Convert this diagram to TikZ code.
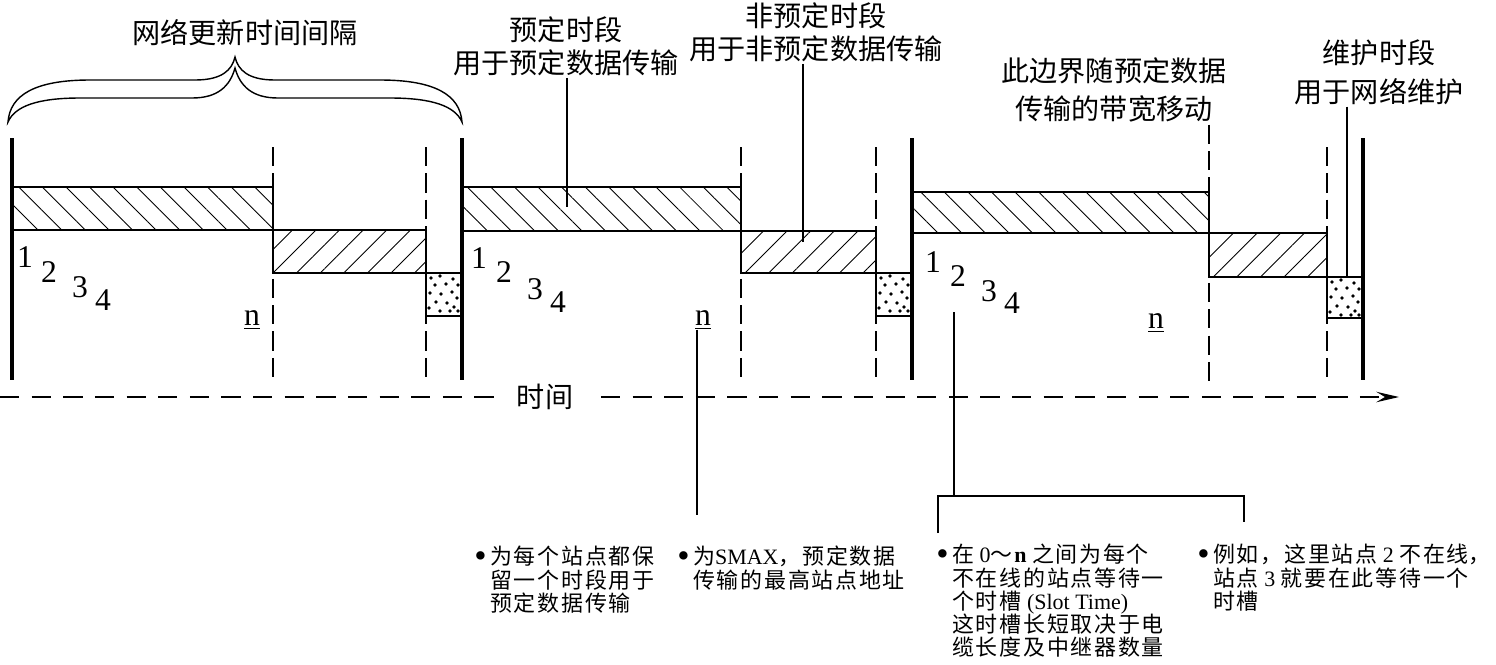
\documentclass[tikz,border=0pt]{standalone}
\usepackage{fontspec}
\setmainfont{Liberation Serif}
\newfontfamily\cjk{Noto Sans CJK SC}
\newfontfamily\cjknote[LetterSpace=8]{Noto Sans CJK SC}
\newfontfamily\cjkhalt[RawFeature=+halt]{Noto Sans CJK SC}
\usetikzlibrary{arrows.meta,patterns.meta}
\newcommand\lat[1]{{\rmfamily #1}}
\newcommand\bul{{\rmfamily\fontsize{20}{13}\selectfont\raisebox{-1.4pt}{\textbullet}}\hspace{2pt}}
\newcommand\nobul{\phantom{\bul}}
\newcommand\tightlines{\setlength{\lineskiplimit}{-20pt}}

\tikzset{
  wall/.style={line width=2.2pt},
  slot/.style={line width=0.8pt, dash pattern=on 11pt off 4pt},
  axis/.style={line width=0.8pt, dash pattern=on 11pt off 7pt,
    -{Stealth[length=13pt,width=6pt,inset=5pt]}},
  resbar/.style={draw, line width=0.9pt,
    pattern={Lines[angle=-45,distance=9.5pt,line width=0.5pt]}},
  freebar/.style={draw, line width=0.9pt,
    pattern={Lines[angle=45,distance=9.5pt,line width=0.5pt]}},
  lbl/.style={font=\cjk\fontsize{16}{19}\selectfont, align=center, inner sep=1pt},
  num/.style={font=\fontsize{18}{18}\selectfont, inner sep=0pt},
  note/.style={font=\cjknote\fontsize{12.5}{13.2}\selectfont\tightlines,
    align=left, anchor=north west, inner sep=0pt},
  ptr/.style={line width=0.7pt}
}

\begin{document}
\begin{tikzpicture}[x=0.02cm,y=-0.02cm]
\useasboundingbox (0,0) rectangle (1496,664);

% time axis
\coordinate (t0) at (0,397);
\coordinate (tip) at (1399,397);
\draw[axis] (t0) -- (tip);
\node[lbl, fill=white, inner xsep=13pt] (timelbl) at (545,397) {时间};

% brace over the first cycle
\draw[line width=0.8pt] (8,122) .. controls (10,95) and (35,80) .. (90,80) -- (195,80)
  .. controls (222,80) and (232,70) .. (235,57) .. controls (238,70) and (248,80) .. (275,80)
  -- (380,80) .. controls (435,80) and (460,95) .. (462,122)
  .. controls (455,106) and (432,98) .. (390,98) -- (278,98)
  .. controls (252,98) and (240,86) .. (235,68) .. controls (230,86) and (218,98) .. (192,98)
  -- (80,98) .. controls (38,98) and (15,106) .. (8,122) -- cycle;
\node[lbl] (title) at (245,33) {网络更新时间间隔};

% labels on top
\node[lbl] (resv) at (566,46) {预定时段\\用于预定数据传输};
\node[lbl] (nonresv) at (816,32) {非预定时段\\用于非预定数据传输};
\node[lbl] (bound) at (1114,90) {此边界随预定数据\\[3pt]传输的带宽移动};
\node[lbl] (maint) at (1379,72) {维护时段\\[3pt]用于网络维护};

% slot boundaries
\foreach \x in {273,426,741,876,1327}
  \draw[slot] (\x,147) -- (\x,383);
\coordinate (b3) at (1209,383);
\draw[slot] (bound.south -| b3) -- (b3);

% reserved and unreserved bars
\draw[resbar] (12,187) rectangle (273,230);
\draw[freebar] (273,230) rectangle (426,273);
\draw[resbar] (462,187) rectangle (741,231);
\draw[freebar] (741,231) rectangle (876,273);
\draw[resbar] (912,192) rectangle (1209,233);
\draw[freebar] (1209,233) rectangle (1327,277);

% maintenance boxes
\foreach \bx/\by/\h in {426/273/43, 876/273/43, 1327/277/41} {
  \draw[line width=0.9pt] (\bx,\by) rectangle ++(36,\h);
  \foreach \dx/\dy in {5/5, 14/3, 27/6, 32/12, 9/12, 20/11, 4/20, 15/21, 26/19,
                       31/25, 10/29, 21/30, 3/35, 28/34, 14/38, 24/38, 32/38}
    \fill (\bx+\dx,\by+\dy) circle (1.1pt);
}

% cycle walls
\foreach \x in {12,462,912,1363}
  \draw[wall] (\x,138) -- (\x,380);

% station numbers
\foreach \nm/\x/\y/\t in {a1/25/257/1, a2/49/272/2, a3/80/287/3, a4/103/300/4,
                          b1/479/258/1, b2/504/272/2, b3n/535/289/3, b4/558/302/4,
                          c1/933/262/1, c2/958/276/2, c3/989/291/3, c4/1012/303/4}
  \node[num] (\nm) at (\x,\y) {\t};
\node[num] (an) at (252,320) {\underline{n}};
\node[num] (bn) at (703,320) {\underline{n}};
\node[num] (cn) at (1156,323) {\underline{n}};

% pointers
\coordinate (p1) at (567,207);
\draw[ptr] (resv.south -| p1) -- (p1);
\coordinate (p2) at (803,242);
\draw[ptr] (nonresv.south -| p2) -- (p2);
\coordinate (p4) at (1347,277);
\draw[ptr] (maint.south -| p4) -- (p4);
\coordinate (p5) at (697,515);
\draw[ptr] (bn.south -| p5) -- (p5);
\coordinate (c2dn) at (954,312);
\coordinate (brk) at (954,496);
\coordinate (legL) at (938,533);
\coordinate (legR) at (1244,522);
\draw[ptr] (c2dn) -- (brk);
\draw[ptr] (legL) |- (legR |- brk) -- (legR);

% notes
\node[note] (note1) at (474,546) {\bul 为每个站点都保\\\nobul 留一个时段用于\\\nobul 预定数据传输};
\node[note] (note2) at (677,546) {\bul 为\lat{SMAX}，预定数据\\\nobul 传输的最高站点地址};
\node[note] (note3) at (936,544) {\bul 在\lat{~0}～\lat{\textbf{n}~}之间为每个\\\nobul 不在线的站点等待一\\\nobul 个时槽\lat{~(Slot Time)}\\\nobul 这时槽长短取决于电\\\nobul 缆长度及中继器数量};
\node[note] (note4) at (1197,544) {\bul 例如，这里站点\lat{~2~}不在线{\cjkhalt ，}\\\nobul 站点\lat{~3~}就要在此等待一个\\\nobul 时槽};
\end{tikzpicture}
\end{document}
